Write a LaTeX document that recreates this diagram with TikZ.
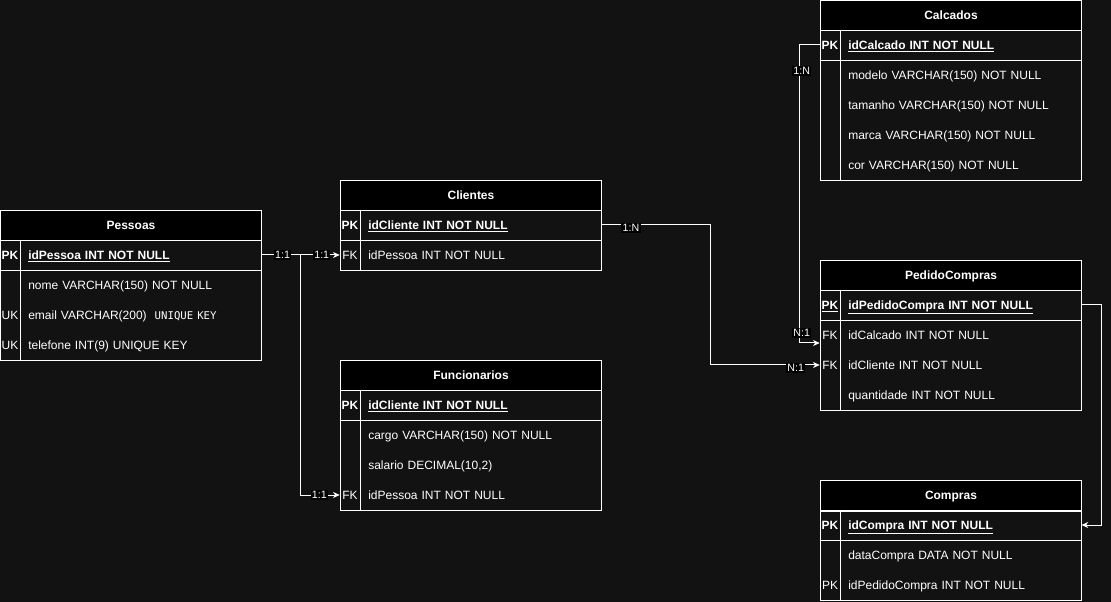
\documentclass[tikz,border=0pt]{standalone}
\usepackage{fontspec}
\setmainfont{Liberation Sans}
\newfontfamily\keymono{DejaVu Sans Mono}
\usetikzlibrary{arrows.meta}
\definecolor{canvas}{RGB}{18,18,18}

\begin{document}
\begin{tikzpicture}[x=0.75pt, y=-0.75pt,
  tablehead/.style={draw=white, line width=0.75pt, fill=black, text=white, font=\bfseries\fontsize{9}{11}\selectfont, text height=7pt, text depth=0.5pt, minimum width=195.75pt, minimum height=22.5pt, inner sep=0pt, anchor=north west},
  keycell/.style={text=white, font=\fontsize{9}{11}\selectfont, text height=7pt, text depth=0.5pt, minimum width=15pt, minimum height=22.5pt, inner sep=0pt},
  pkkey/.style={keycell, font=\bfseries\fontsize{9}{11}\selectfont},
  rowcell/.style={text=white, font=\fontsize{9}{11}\selectfont, text height=7pt, text depth=0.5pt, anchor=west, text width=168.75pt, inner xsep=6pt, inner ysep=0pt, minimum height=22.5pt, align=left},
  pkrow/.style={rowcell, font=\bfseries\fontsize{9}{11}\selectfont},
  tableline/.style={draw=white, line width=0.75pt},
  relation/.style={draw=white, line width=0.75pt, -{Stealth[length=5pt,width=4.5pt,inset=1.5pt]}},
  card/.style={fill=black, text=white, font=\fontsize{8}{9}\selectfont, inner sep=1pt}]
\path[use as bounding box, fill=canvas] (0,0) rectangle (1111,602);
% Pessoas
\node[tablehead] (pessoasH) at (0,210) {Pessoas};
\node[pkkey] (pessoasK1) at (10,255) {PK};
\node[pkrow] (pessoasR1) at (20,255) {\underline{idPessoa INT NOT NULL}};
\node[keycell] (pessoasK2) at (10,285) {};
\node[rowcell] (pessoasR2) at (20,285) {nome VARCHAR(150) NOT NULL};
\node[keycell] (pessoasK3) at (10,315) {UK};
\node[rowcell] (pessoasR3) at (20,315) {email VARCHAR(200)~~{\keymono\fontsize{8}{9}\selectfont UNIQUE KEY}};
\node[keycell] (pessoasK4) at (10,345) {UK};
\node[rowcell] (pessoasR4) at (20,345) {telefone INT(9) UNIQUE KEY};
% Clientes
\node[tablehead] (clientesH) at (340,180) {Clientes};
\node[pkkey] (clientesK1) at (350,225) {PK};
\node[pkrow] (clientesR1) at (360,225) {\underline{idCliente INT NOT NULL}};
\node[keycell] (clientesK2) at (350,255) {FK};
\node[rowcell] (clientesR2) at (360,255) {idPessoa INT NOT NULL};
% Funcionarios
\node[tablehead] (funcionariosH) at (340,360) {Funcionarios};
\node[pkkey] (funcionariosK1) at (350,405) {PK};
\node[pkrow] (funcionariosR1) at (360,405) {\underline{idCliente INT NOT NULL}};
\node[keycell] (funcionariosK2) at (350,435) {};
\node[rowcell] (funcionariosR2) at (360,435) {cargo VARCHAR(150) NOT NULL};
\node[keycell] (funcionariosK3) at (350,465) {};
\node[rowcell] (funcionariosR3) at (360,465) {salario DECIMAL(10,2)};
\node[keycell] (funcionariosK4) at (350,495) {FK};
\node[rowcell] (funcionariosR4) at (360,495) {idPessoa INT NOT NULL};
% Calcados
\node[tablehead] (calcadosH) at (820,0) {Calcados};
\node[pkkey] (calcadosK1) at (830,45) {PK};
\node[pkrow] (calcadosR1) at (840,45) {\underline{idCalcado INT NOT NULL}};
\node[keycell] (calcadosK2) at (830,75) {};
\node[rowcell] (calcadosR2) at (840,75) {modelo VARCHAR(150) NOT NULL};
\node[keycell] (calcadosK3) at (830,105) {};
\node[rowcell] (calcadosR3) at (840,105) {tamanho VARCHAR(150) NOT NULL};
\node[keycell] (calcadosK4) at (830,135) {};
\node[rowcell] (calcadosR4) at (840,135) {marca VARCHAR(150) NOT NULL};
\node[keycell] (calcadosK5) at (830,165) {};
\node[rowcell] (calcadosR5) at (840,165) {cor VARCHAR(150) NOT NULL};
% PedidoCompras
\node[tablehead] (pedidoH) at (820,260) {PedidoCompras};
\node[pkkey] (pedidoK1) at (830,305) {\underline{PK}};
\node[pkrow] (pedidoR1) at (840,305) {\underline{idPedidoCompra INT NOT NULL}};
\node[keycell] (pedidoK2) at (830,335) {FK};
\node[rowcell] (pedidoR2) at (840,335) {idCalcado INT NOT NULL};
\node[keycell] (pedidoK3) at (830,365) {FK};
\node[rowcell] (pedidoR3) at (840,365) {idCliente INT NOT NULL};
\node[keycell] (pedidoK4) at (830,395) {};
\node[rowcell] (pedidoR4) at (840,395) {quantidade INT NOT NULL};
% Compras
\node[tablehead] (comprasH) at (820,480) {Compras};
\node[pkkey] (comprasK1) at (830,525) {PK};
\node[pkrow] (comprasR1) at (840,525) {\underline{idCompra INT NOT NULL}};
\node[keycell] (comprasK2) at (830,555) {};
\node[rowcell] (comprasR2) at (840,555) {dataCompra DATA NOT NULL};
\node[keycell] (comprasK3) at (830,585) {PK};
\node[rowcell] (comprasR3) at (840,585) {idPedidoCompra INT NOT NULL};
% table frames
\draw[tableline] (pessoasH.south west) rectangle (pessoasR4.south east);
\draw[tableline] (pessoasK1.south west) -- (pessoasR1.south east);
\draw[tableline] (pessoasK1.north east) -- (pessoasK4.south east);
\draw[tableline] (clientesH.south west) rectangle (clientesR2.south east);
\draw[tableline] (clientesK1.south west) -- (clientesR1.south east);
\draw[tableline] (clientesK1.north east) -- (clientesK2.south east);
\draw[tableline] (funcionariosH.south west) rectangle (funcionariosR4.south east);
\draw[tableline] (funcionariosK1.south west) -- (funcionariosR1.south east);
\draw[tableline] (funcionariosK1.north east) -- (funcionariosK4.south east);
\draw[tableline] (calcadosH.south west) rectangle (calcadosR5.south east);
\draw[tableline] (calcadosK1.south west) -- (calcadosR1.south east);
\draw[tableline] (calcadosK1.north east) -- (calcadosK5.south east);
\draw[tableline] (pedidoH.south west) rectangle (pedidoR4.south east);
\draw[tableline] (pedidoK1.south west) -- (pedidoR1.south east);
\draw[tableline] (pedidoK1.north east) -- (pedidoK4.south east);
\draw[tableline] (comprasH.south west) rectangle (comprasR3.south east);
\draw[tableline] (comprasK1.south west) -- (comprasR1.south east);
\draw[tableline] (comprasK1.north east) -- (comprasK3.south east);
% relations
\draw[relation] (pessoasR1.east) -- ++(39,0) |- node[card, pos=0.74] {1:1} (funcionariosK4.west);
\draw[relation] (pessoasR1.east) -- node[card, pos=0.27] {1:1} node[card, pos=0.77] {1:1} (clientesK2.west);
\draw[relation] (clientesR1.east) -- node[card, pos=0.27, yshift=-2pt] {1:N} ++(109,0) |- node[card, pos=0.89, yshift=-2pt] {N:1} (pedidoK3.west);
\draw[relation] (calcadosK1.west) -- ++(-20,0) |- node[card, pos=0.044, xshift=1.5pt] {1:N} node[card, pos=0.483, xshift=1.5pt] {N:1} ([yshift=-6pt]pedidoK2.west);
\draw[relation] (pedidoR1.east) -- ++(20,0) |- (comprasR1.east);
\end{tikzpicture}
\end{document}
